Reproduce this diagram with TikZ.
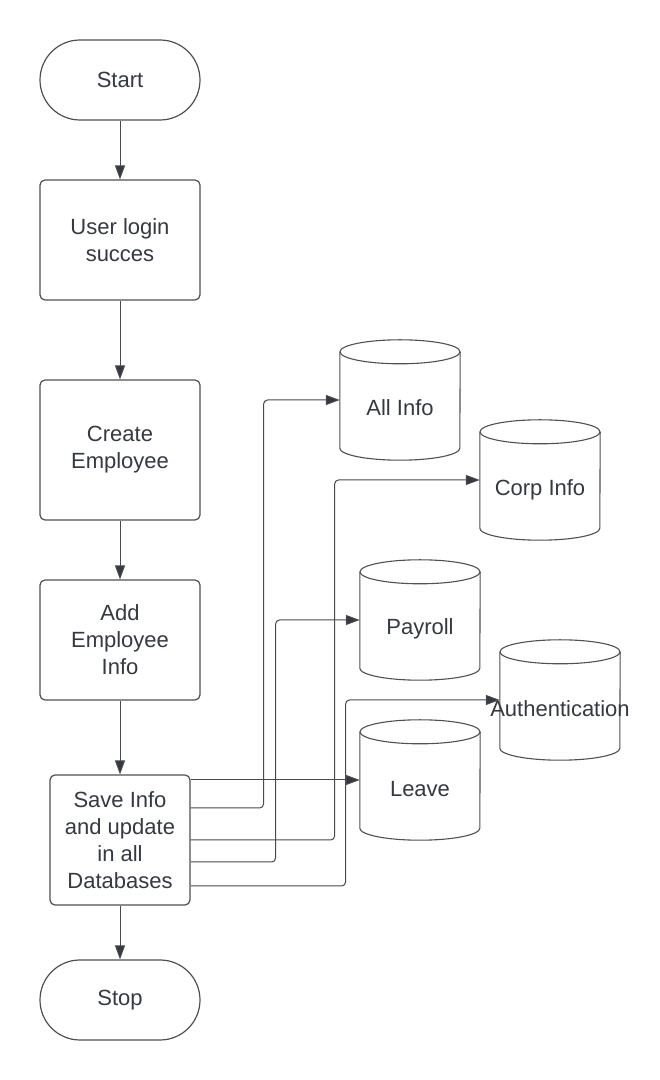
\documentclass[tikz,border=0pt]{standalone}
\usepackage{fontspec}
\setmainfont{Liberation Sans}
\usetikzlibrary{arrows.meta}
\definecolor{ink}{RGB}{52,57,66}
\definecolor{edge}{RGB}{80,80,84}
\definecolor{wire}{RGB}{72,74,80}
\tikzset{
  every node/.style={font=\fontsize{22}{27}\selectfont, text=ink, align=center},
  procbox/.style={draw=edge, line width=1.2pt, rounded corners=5pt, minimum width=160pt, inner sep=0pt},
  termbox/.style={draw=edge, line width=1.2pt, rounded corners=40pt, minimum width=160pt, minimum height=80pt, inner sep=0pt},
  dbshape/.style={minimum width=120pt, minimum height=120pt, inner sep=0pt},
  dbline/.style={draw=edge, line width=1.1pt},
  flow/.style={draw=wire, line width=1pt, -{Triangle[length=14pt,width=10pt]}, color=wire, fill=ink},
  feed/.style={draw=wire, line width=1pt, rounded corners=4pt, -{Triangle[length=14pt,width=10pt,fill=ink]}}
}
\newcommand{\dbcyl}[1]{%
  \draw[dbline] ([yshift=-12pt]#1.north west) -- ([yshift=12pt]#1.south west)
    arc[start angle=180, end angle=360, x radius=60pt, y radius=12pt]
    -- ([yshift=-12pt]#1.north east);
  \draw[dbline] ([yshift=-12pt]#1.north) ellipse[x radius=60pt, y radius=12pt];
}
\begin{document}
\begin{tikzpicture}[x=1pt,y=1pt]
\useasboundingbox[fill=white] (0,0) rectangle (660,1080);

% main flow
\node[termbox] (start) at (120,1000) {Start};
\node[procbox, minimum height=120pt] (login) at (120,840) {User login\\succes};
\node[procbox, minimum height=140pt] (create) at (120,630) {Create\\Employee};
\node[procbox, minimum height=120pt] (add) at (120,440) {Add\\Employee\\Info};
\node[procbox, minimum width=140pt, minimum height=130pt] (save) at (120,240) {Save Info\\and update\\in all\\Databases};
\node[termbox] (stop) at (120,80) {Stop};

% databases
\node[dbshape] (allinfo) at (400,680) {};
\node[dbshape] (corp) at (540,600) {};
\node[dbshape] (payroll) at (420,460) {};
\node[dbshape] (auth) at (560,380) {};
\node[dbshape] (leave) at (420,300) {};
\dbcyl{allinfo}
\dbcyl{corp}
\dbcyl{payroll}
\dbcyl{auth}
\dbcyl{leave}
\node (allinfo-t) at ([yshift=-8pt]allinfo.center) {All Info};
\node (corp-t) at ([yshift=-10pt]corp.center) {Corp Info};
\node (payroll-t) at ([yshift=-9pt]payroll.center) {Payroll};
\node (auth-t) at ([yshift=-9pt]auth.center) {Authentication};
\node (leave-t) at ([yshift=-9pt]leave.center) {Leave};

% sequence arrows
\draw[feed] (start) -- (login);
\draw[feed] (login) -- (create);
\draw[feed] (create) -- (add);
\draw[feed] (add) -- (save);
\draw[feed] (save) -- (stop);

% updates into every database
\draw[feed] (save.east |- leave.west) -- (leave.west);
\draw[feed] ([yshift=32pt]save.east) -- ++(73,0) |- (allinfo.west);
\draw[feed] (save.east) -- ++(144,0) |- (corp.west);
\draw[feed] ([yshift=-22pt]save.east) -- ++(85,0) |- (payroll.west);
\draw[feed] ([yshift=-46pt]save.east) -- ++(155,0) |- (auth.west);
\end{tikzpicture}
\end{document}
